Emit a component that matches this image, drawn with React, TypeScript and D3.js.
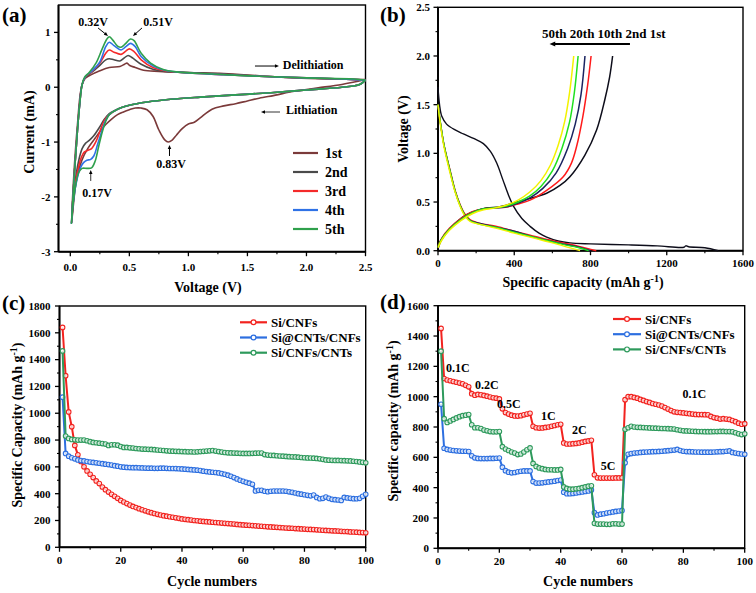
import React from "react";
import * as d3 from "d3";

const FONT = "'Liberation Serif','Times New Roman',Times,serif";

// ---------------- Panel (a) : CV curves ----------------
const cvNames = ["1st", "2nd", "3rd", "4th", "5th"];
const cvColors = ["#7b3a3a", "#4a4a4a", "#f42a2a", "#2f72e6", "#2fa04c"];
const cv1: [number, number][] = [
  [2.5, 0.14], [2.3, 0.05], [2.1, -0.01], [2.0, -0.04], [1.85, -0.09], [1.75, -0.14], [1.6, -0.2], [1.5, -0.25], [1.4, -0.3], [1.3, -0.34], [1.2, -0.4],
  [1.1, -0.56], [1.05, -0.64], [1.0, -0.67], [0.95, -0.75], [0.9, -0.87], [0.86, -0.97], [0.83, -1.0], [0.8, -0.96], [0.75, -0.78],
  [0.7, -0.53], [0.65, -0.41], [0.6, -0.38], [0.55, -0.38], [0.5, -0.41], [0.45, -0.45], [0.4, -0.5], [0.35, -0.58], [0.3, -0.68],
  [0.25, -0.81], [0.2, -0.96], [0.15, -1.11], [0.1, -1.32], [0.05, -1.72], [0.01, -2.48],
  [0.03, -1.6], [0.06, -0.7], [0.09, -0.05], [0.12, 0.15], [0.17, 0.22], [0.25, 0.3], [0.33, 0.36], [0.42, 0.38], [0.46, 0.42],
  [0.48, 0.44], [0.5, 0.4], [0.55, 0.36], [0.62, 0.31], [0.75, 0.29], [1.0, 0.27], [1.3, 0.25], [1.6, 0.21], [1.9, 0.17], [2.2, 0.15], [2.5, 0.14],
];
const cv2: [number, number][] = [
  [2.5, 0.13], [2.45, 0.05], [2.3, 0.0], [2.0, -0.05], [1.7, -0.1], [1.4, -0.14], [1.1, -0.18], [0.85, -0.22], [0.65, -0.27], [0.5, -0.33],
  [0.4, -0.4], [0.33, -0.48], [0.29, -0.58], [0.25, -0.72], [0.2, -0.88], [0.16, -0.97], [0.13, -1.02], [0.1, -1.12], [0.07, -1.35],
  [0.04, -1.75], [0.01, -2.48],
  [0.02, -2.1], [0.04, -1.4], [0.06, -0.8], [0.08, -0.3], [0.1, 0.05], [0.13, 0.18], [0.18, 0.27], [0.25, 0.4], [0.3, 0.5], [0.33, 0.52],
  [0.37, 0.5], [0.42, 0.48], [0.46, 0.54], [0.49, 0.58], [0.53, 0.53], [0.6, 0.42], [0.7, 0.33], [0.8, 0.29], [1.0, 0.27], [1.3, 0.24],
  [1.6, 0.2], [2.0, 0.17], [2.3, 0.15], [2.5, 0.13],
];
const cv3: [number, number][] = [
  [2.5, 0.13], [2.45, 0.05], [2.3, 0.0], [2.0, -0.05], [1.7, -0.1], [1.4, -0.14], [1.1, -0.18], [0.85, -0.22], [0.65, -0.27], [0.5, -0.33],
  [0.4, -0.4], [0.33, -0.5], [0.29, -0.6], [0.26, -0.75], [0.22, -0.98], [0.18, -1.12], [0.15, -1.15], [0.12, -1.18], [0.09, -1.3],
  [0.06, -1.55], [0.03, -1.95], [0.01, -2.48],
  [0.02, -2.1], [0.04, -1.4], [0.06, -0.8], [0.08, -0.3], [0.1, 0.05], [0.13, 0.19], [0.18, 0.28], [0.25, 0.44], [0.3, 0.62], [0.33, 0.68],
  [0.37, 0.64], [0.43, 0.6], [0.47, 0.66], [0.5, 0.7], [0.54, 0.65], [0.6, 0.5], [0.7, 0.36], [0.8, 0.3], [1.0, 0.26], [1.3, 0.23],
  [1.6, 0.2], [2.0, 0.17], [2.3, 0.15], [2.5, 0.13],
];
const cv4: [number, number][] = [
  [2.5, 0.13], [2.45, 0.05], [2.3, 0.0], [2.0, -0.05], [1.7, -0.1], [1.4, -0.14], [1.1, -0.18], [0.85, -0.22], [0.65, -0.27], [0.5, -0.33],
  [0.4, -0.4], [0.33, -0.5], [0.3, -0.6], [0.27, -0.78], [0.23, -1.05], [0.2, -1.25], [0.17, -1.32], [0.14, -1.33], [0.11, -1.38],
  [0.08, -1.5], [0.05, -1.75], [0.02, -2.2], [0.01, -2.48],
  [0.02, -2.1], [0.04, -1.4], [0.06, -0.8], [0.08, -0.3], [0.1, 0.05], [0.13, 0.2], [0.18, 0.29], [0.25, 0.46], [0.3, 0.74], [0.33, 0.82],
  [0.37, 0.76], [0.43, 0.68], [0.47, 0.74], [0.51, 0.8], [0.55, 0.74], [0.6, 0.56], [0.7, 0.39], [0.8, 0.31], [1.0, 0.26], [1.3, 0.23],
  [1.6, 0.2], [2.0, 0.17], [2.3, 0.15], [2.5, 0.13],
];
const cv5: [number, number][] = [
  [2.5, 0.13], [2.45, 0.05], [2.3, 0.0], [2.0, -0.05], [1.7, -0.1], [1.4, -0.14], [1.1, -0.18], [0.85, -0.22], [0.65, -0.27], [0.5, -0.33],
  [0.4, -0.4], [0.33, -0.5], [0.3, -0.62], [0.27, -0.82], [0.24, -1.08], [0.21, -1.35], [0.18, -1.47], [0.14, -1.48], [0.1, -1.48],
  [0.07, -1.56], [0.04, -1.85], [0.02, -2.2], [0.01, -2.48],
  [0.02, -2.1], [0.04, -1.4], [0.06, -0.8], [0.08, -0.3], [0.1, 0.05], [0.12, 0.18], [0.16, 0.27], [0.22, 0.45], [0.27, 0.7], [0.31, 0.88],
  [0.33, 0.92], [0.36, 0.86], [0.4, 0.75], [0.43, 0.73], [0.47, 0.8], [0.51, 0.88], [0.54, 0.85], [0.6, 0.62], [0.68, 0.44], [0.78, 0.33],
  [0.9, 0.28], [1.2, 0.24], [1.6, 0.2], [2.0, 0.17], [2.4, 0.15], [2.5, 0.13],
];
const cvSeries = [cv1, cv2, cv3, cv4, cv5];
const cvXTicks = [0, 0.5, 1.0, 1.5, 2.0, 2.5];
const cvYTicks = [-3, -2, -1, 0, 1];

// ---------------- Panel (b) : charge/discharge ----------------
const gcdNames = ["1st", "2nd", "10th", "20th", "50th"];
const gcdColors = ["#0d0d1a", "#ff1a1a", "#1a2360", "#1ee01e", "#f2f200"];
const ch1: [number, number][] = [
  [0, 0.02], [15, 0.1], [50, 0.2], [100, 0.3], [150, 0.37], [200, 0.41], [260, 0.44], [320, 0.45], [395, 0.49], [470, 0.53],
  [570, 0.59], [640, 0.67], [692, 0.76], [770, 0.98], [832, 1.24], [875, 1.55], [900, 1.78], [916, 2.0],
];
const ch2: [number, number][] = [
  [0, 0.05], [20, 0.13], [60, 0.23], [120, 0.33], [180, 0.4], [240, 0.43], [300, 0.44], [360, 0.45], [420, 0.48], [483, 0.52],
  [570, 0.62], [657, 0.76], [700, 0.9], [727, 1.07], [760, 1.38], [785, 1.7], [803, 2.0],
];
const ch10: [number, number][] = [
  [0, 0.04], [20, 0.12], [60, 0.22], [120, 0.32], [180, 0.39], [240, 0.43], [300, 0.44], [360, 0.45], [420, 0.49], [480, 0.54],
  [550, 0.64], [620, 0.8], [680, 1.05], [720, 1.3], [750, 1.6], [771, 2.0],
];
const ch20: [number, number][] = [
  [0, 0.04], [20, 0.12], [60, 0.22], [120, 0.32], [180, 0.39], [240, 0.43], [300, 0.44], [360, 0.46], [420, 0.5], [480, 0.56],
  [540, 0.66], [600, 0.82], [650, 1.05], [690, 1.32], [715, 1.62], [735, 2.0],
];
const ch50: [number, number][] = [
  [0, 0.03], [20, 0.11], [60, 0.21], [120, 0.31], [180, 0.38], [240, 0.42], [300, 0.44], [360, 0.47], [420, 0.52], [480, 0.6],
  [540, 0.72], [590, 0.88], [630, 1.08], [665, 1.33], [690, 1.62], [712, 2.0],
];
const dis1: [number, number][] = [
  [0, 1.68], [8, 1.5], [20, 1.38], [45, 1.3], [90, 1.24], [133, 1.2], [190, 1.15], [238, 1.1], [275, 1.02], [308, 0.9], [340, 0.73],
  [370, 0.57], [395, 0.46], [440, 0.33], [483, 0.25], [530, 0.18], [570, 0.14], [630, 0.1], [692, 0.08], [800, 0.07], [1000, 0.06],
  [1150, 0.05], [1290, 0.035], [1300, 0.05], [1315, 0.04], [1400, 0.03], [1470, 0.0],
];
const dis2: [number, number][] = [
  [0, 1.5], [10, 1.35], [30, 1.1], [63, 0.83], [90, 0.62], [115, 0.48], [140, 0.38], [168, 0.32], [220, 0.28], [308, 0.25],
  [400, 0.2], [483, 0.16], [560, 0.12], [656, 0.08], [740, 0.045], [830, 0.0],
];
const dis10: [number, number][] = [
  [0, 1.5], [10, 1.35], [30, 1.1], [63, 0.82], [90, 0.61], [115, 0.47], [140, 0.37], [168, 0.31], [220, 0.28], [308, 0.24],
  [400, 0.2], [483, 0.15], [560, 0.11], [656, 0.07], [740, 0.035], [800, 0.0],
];
const dis20: [number, number][] = [
  [0, 1.5], [10, 1.35], [30, 1.1], [63, 0.82], [90, 0.61], [115, 0.47], [140, 0.37], [168, 0.31], [220, 0.27], [308, 0.24],
  [400, 0.19], [483, 0.15], [560, 0.11], [656, 0.065], [740, 0.03], [790, 0.0],
];
const dis50: [number, number][] = [
  [0, 1.5], [10, 1.33], [30, 1.08], [63, 0.8], [90, 0.6], [115, 0.46], [140, 0.36], [168, 0.3], [220, 0.27], [308, 0.23],
  [400, 0.18], [483, 0.14], [560, 0.1], [656, 0.05], [745, 0.0],
];
const chargeSeries = [ch1, ch2, ch10, ch20, ch50];
const dischargeSeries = [dis1, dis2, dis10, dis20, dis50];
const gcdXTicks = [0, 400, 800, 1200, 1600];
const gcdYTicks = [0, 0.5, 1.0, 1.5, 2.0, 2.5];

// ---------------- Panels (c) & (d) ----------------
const matNames = ["Si/CNFs", "Si@CNTs/CNFs", "Si/CNFs/CNTs"];
const matColors = ["#f2231f", "#2d6fe0", "#2e9a5c"];
const cycleX = d3.range(1, 101);

const cycSiCNFs = [
  1640, 1280, 1010, 900, 760, 690, 640, 600, 570, 545,
  520, 495, 475, 450, 430, 412, 395, 380, 365, 350,
  338, 326, 315, 305, 296, 288, 280, 272, 265, 258,
  252, 246, 241, 236, 232, 228, 224, 220, 216, 212,
  209, 206, 203, 200, 198, 195, 193, 191, 189, 187,
  185, 183, 181, 179, 177, 175, 173, 171, 169, 167,
  165, 164, 162, 160, 158, 157, 155, 153, 152, 150,
  149, 147, 146, 144, 143, 142, 140, 139, 137, 136,
  134, 133, 132, 130, 129, 127, 126, 125, 123, 122,
  121, 119, 118, 117, 115, 114, 113, 111, 110, 108,
];
const cycSiCNTsCNFs = [
  1120, 700, 680, 668, 660, 652, 647, 644, 640, 636,
  633, 630, 627, 624, 620, 617, 613, 609, 605, 600,
  598, 596, 595, 594, 594, 593, 592, 591, 590, 590,
  589, 589, 590, 590, 589, 588, 588, 587, 586, 585,
  583, 581, 579, 577, 575, 572, 568, 565, 562, 560,
  558, 555, 550, 545, 538, 530, 520, 510, 500, 492,
  485, 478, 470, 420, 425, 425, 418, 415, 418, 420,
  420, 420, 420, 418, 414, 410, 405, 400, 396, 392,
  388, 384, 390, 372, 362, 365, 375, 365, 358, 355,
  353, 350, 372, 368, 365, 363, 362, 365, 380, 395,
];
const cycSiCNFsCNTs = [
  1465, 830, 812, 805, 802, 800, 800, 800, 795, 788,
  782, 780, 777, 774, 770, 760, 765, 765, 762, 752,
  745, 745, 742, 740, 737, 735, 733, 732, 731, 730,
  728, 726, 724, 722, 720, 718, 717, 716, 715, 714,
  713, 712, 712, 711, 712, 714, 716, 718, 720, 722,
  718, 714, 710, 707, 705, 704, 703, 702, 701, 700,
  700, 700, 701, 702, 703, 703, 692, 688, 686, 685,
  683, 681, 680, 678, 676, 675, 674, 672, 670, 668,
  667, 666, 665, 663, 660, 656, 652, 650, 649, 648,
  648, 647, 646, 645, 644, 642, 640, 637, 634, 630,
];
const cycSeries = [cycSiCNFs, cycSiCNTsCNFs, cycSiCNFsCNTs];

const rateSiCNFs = [
  1450, 1120, 1110, 1105, 1100, 1095, 1090, 1085, 1075, 1065,
  1020, 1010, 1015, 1012, 1008, 1003, 998, 993, 990, 985,
  920, 895, 885, 878, 873, 872, 875, 880, 885, 890,
  805, 795, 793, 794, 797, 800, 805, 810, 815, 818,
  695, 688, 688, 690, 692, 695, 700, 705, 708, 712,
  485, 465, 463, 463, 463, 463, 463, 464, 464, 465,
  980, 1000, 1000, 995, 990, 982, 975, 968, 962, 955,
  950, 945, 938, 928, 918, 908, 900, 897, 895, 893,
  890, 888, 885, 883, 882, 882, 881, 880, 870, 862,
  858, 852, 855, 852, 850, 843, 835, 825, 818, 822,
];
const rateSiCNTsCNFs = [
  950, 660, 652, 648, 645, 643, 641, 640, 640, 638,
  610, 597, 593, 592, 592, 592, 593, 593, 594, 595,
  535, 512, 502, 498, 500, 505, 508, 510, 510, 510,
  440, 430, 430, 432, 435, 438, 440, 443, 447, 450,
  370, 360, 360, 362, 365, 368, 372, 375, 378, 385,
  235, 220, 225, 228, 232, 236, 240, 243, 246, 250,
  565, 620, 625, 628, 630, 632, 634, 635, 636, 637,
  638, 639, 640, 642, 644, 646, 648, 652, 645, 640,
  638, 637, 636, 635, 635, 634, 634, 634, 634, 635,
  636, 637, 638, 640, 642, 632, 628, 625, 622, 620,
];
const rateSiCNFsCNTs = [
  1300, 855, 830, 840, 850, 860, 868, 875, 878, 882,
  815, 795, 795, 790, 780, 775, 770, 768, 768, 770,
  670, 655, 645, 635, 628, 618, 622, 635, 650, 662,
  560, 540, 530, 525, 520, 518, 518, 517, 517, 520,
  405, 395, 390, 390, 392, 395, 400, 405, 410, 412,
  165, 160, 160, 160, 158, 158, 162, 162, 160, 160,
  785, 795, 805, 800, 798, 797, 796, 795, 794, 793,
  792, 791, 790, 790, 789, 788, 786, 782, 778, 775,
  774, 773, 772, 771, 770, 770, 769, 769, 769, 770,
  770, 771, 771, 770, 770, 768, 762, 755, 750, 755,
];
const rateSeries = [rateSiCNFs, rateSiCNTsCNFs, rateSiCNFsCNTs];
const rateLabels = ["0.1C", "0.2C", "0.5C", "1C", "2C", "5C", "0.1C"];
const rateLabelX = [2.6, 12.1, 19.2, 33.6, 43.7, 53.1, 79.7];
const rateLabelY = [1163, 1051, 925, 846, 754, 516, 991];

const cycXTicks = [0, 20, 40, 60, 80, 100];
const cycYTicks = [0, 200, 400, 600, 800, 1000, 1200, 1400, 1600, 1800];
const rateYTicks = [0, 200, 400, 600, 800, 1000, 1200, 1400, 1600];

type Lin = d3.ScaleLinear<number, number>;

function Axes(props: {
  xs: Lin; ys: Lin; xTicks: number[]; xMinor: number[]; yTicks: number[]; yMinor: number[];
  xFmt: (v: number) => string; yFmt: (v: number) => string; xDy: number; yGap: number;
}) {
  const { xs, ys, xTicks, xMinor, yTicks, yMinor, xFmt, yFmt, xDy, yGap } = props;
  const [X0, X1] = xs.range();
  const [Y0, Y1] = ys.range();
  return (
    <g fontFamily={FONT} fontWeight="bold" fontSize={11}>
      <rect x={X0} y={Y1} width={X1 - X0} height={Y0 - Y1} fill="none" stroke="#000" strokeWidth={1.4} />
      <line x1={X0} x2={X0} y1={Y1} y2={Y0} stroke="#000" strokeWidth={1.9} />
      <line x1={X0} x2={X1} y1={Y0} y2={Y0} stroke="#000" strokeWidth={1.9} />
      {xMinor.map((t, i) => (
        <line key={"xm" + i} x1={xs(t)} x2={xs(t)} y1={Y0} y2={Y0 + 2.5} stroke="#000" strokeWidth={1.1} />
      ))}
      {yMinor.map((t, i) => (
        <line key={"ym" + i} x1={X0 - 2.5} x2={X0} y1={ys(t)} y2={ys(t)} stroke="#000" strokeWidth={1.1} />
      ))}
      {xTicks.map((t, i) => (
        <g key={"x" + i}>
          <line x1={xs(t)} x2={xs(t)} y1={Y0} y2={Y0 + 4.5} stroke="#000" strokeWidth={1.3} />
          <text x={xs(t)} y={Y0 + xDy} textAnchor="middle">{xFmt(t)}</text>
        </g>
      ))}
      {yTicks.map((t, i) => (
        <g key={"y" + i}>
          <line x1={X0 - 4.5} x2={X0} y1={ys(t)} y2={ys(t)} stroke="#000" strokeWidth={1.3} />
          <text x={X0 - yGap} y={ys(t)} dy="0.35em" textAnchor="end">{yFmt(t)}</text>
        </g>
      ))}
    </g>
  );
}

function Arrow({ x1, y1, x2, y2, w = 1, head = 4 }: { x1: number; y1: number; x2: number; y2: number; w?: number; head?: number }) {
  const ang = Math.atan2(y2 - y1, x2 - x1);
  const hx1 = x2 - head * 1.6 * Math.cos(ang) + head * 0.7 * Math.sin(ang);
  const hy1 = y2 - head * 1.6 * Math.sin(ang) - head * 0.7 * Math.cos(ang);
  const hx2 = x2 - head * 1.6 * Math.cos(ang) - head * 0.7 * Math.sin(ang);
  const hy2 = y2 - head * 1.6 * Math.sin(ang) + head * 0.7 * Math.cos(ang);
  const bx = x2 - head * 1.3 * Math.cos(ang);
  const by = y2 - head * 1.3 * Math.sin(ang);
  return (
    <g>
      <line x1={x1} y1={y1} x2={bx} y2={by} stroke="#000" strokeWidth={w} />
      <path d={`M${x2},${y2}L${hx1},${hy1}L${hx2},${hy2}Z`} fill="#000" />
    </g>
  );
}

const g1 = () => (
  <>
    <tspan>g</tspan>
    <tspan dy={-5} fontSize={10}>-1</tspan>
    <tspan dy={5}>)</tspan>
  </>
);

export default function App() {
  // scales
  const ax = d3.scaleLinear().domain([-0.1, 2.5]).range([58.5, 365.5]);
  const ay = d3.scaleLinear().domain([-3, 1.5]).range([251.7, 5]);
  const bx = d3.scaleLinear().domain([0, 1600]).range([438, 743]);
  const by = d3.scaleLinear().domain([0, 2.5]).range([250.7, 7.3]);
  const cx = d3.scaleLinear().domain([0, 100]).range([59.5, 365.7]);
  const cy = d3.scaleLinear().domain([0, 1800]).range([547.3, 306]);
  const dx = d3.scaleLinear().domain([0, 100]).range([438, 744.7]);
  const dy = d3.scaleLinear().domain([0, 1600]).range([548.3, 305.7]);

  const lineA = d3.line<[number, number]>().x((d) => ax(d[0])).y((d) => ay(d[1])).curve(d3.curveCatmullRom.alpha(0.5));
  const lineB = d3.line<[number, number]>().x((d) => bx(d[0])).y((d) => by(d[1])).curve(d3.curveCatmullRom.alpha(0.5));
  const lineC = d3.line<number>().x((_, i) => cx(cycleX[i])).y((d) => cy(d));
  const lineD = d3.line<number>().x((_, i) => dx(cycleX[i])).y((d) => dy(d));

  const f1 = d3.format(".1f");
  const f0 = (v: number) => String(v);

  const titleStyle = { fontFamily: FONT, fontWeight: "bold" as const };

  return (
    <svg width={756} height={593} style={{ position: "absolute", left: 0, top: 0, background: "#fff" }}>
      <rect x={0} y={0} width={756} height={593} fill="#fff" />
      {/* ============ Panel (a) ============ */}
      <Axes xs={ax} ys={ay} xTicks={cvXTicks} xMinor={[0.25, 0.75, 1.25, 1.75, 2.25]} yTicks={cvYTicks}
        yMinor={[-2.5, -1.5, -0.5, 0.5]} xFmt={f1} yFmt={f0} xDy={19.5} yGap={8} />
      {cvSeries.map((s, i) => (
        <path key={i} d={lineA(s) || ""} fill="none" stroke={cvColors[i]} strokeWidth={1.6} />
      ))}
      <g {...titleStyle} fontSize={12}>
        <text x={ax(0.192)} y={ay(1.117)} textAnchor="middle">0.32V</text>
        <text x={ax(0.743)} y={ay(1.117)} textAnchor="middle">0.51V</text>
        <text x={ax(1.8)} y={ay(0.333)}>Delithiation</text>
        <text x={ax(1.827)} y={ay(-0.487)}>Lithiation</text>
        <text x={ax(0.853)} y={ay(-1.473)} textAnchor="middle">0.83V</text>
        <text x={ax(0.226)} y={ay(-2.0)} textAnchor="middle">0.17V</text>
      </g>
      <Arrow x1={ax(0.235)} y1={ay(1.081)} x2={ax(0.319)} y2={ay(0.935)} head={2.5} />
      <Arrow x1={ax(0.607)} y1={ay(1.081)} x2={ax(0.531)} y2={ay(0.935)} head={2.5} />
      <Arrow x1={ax(1.564)} y1={ay(0.387)} x2={ax(1.767)} y2={ay(0.387)} head={2.5} />
      <Arrow x1={ax(1.776)} y1={ay(-0.452)} x2={ax(1.615)} y2={ay(-0.452)} head={2.5} w={0.8} />
      <Arrow x1={ax(0.84)} y1={ay(-1.254)} x2={ax(0.84)} y2={ay(-1.054)} head={2.5} />
      <Arrow x1={ax(0.173)} y1={ay(-1.71)} x2={ax(0.173)} y2={ay(-1.51)} head={2.5} w={0.8} />
      {cvNames.map((n, i) => (
        <g key={n}>
          <line x1={293} x2={318} y1={153 + i * 19} y2={153 + i * 19} stroke={cvColors[i]} strokeWidth={2.2} />
          <text x={325} y={153 + i * 19 + 5} {...titleStyle} fontSize={14}>{n}</text>
        </g>
      ))}
      <text x={2} y={22} {...titleStyle} fontSize={21}>(a)</text>
      <text transform="translate(29,132) rotate(-90)" textAnchor="middle" dy="0.35em" {...titleStyle} fontSize={14}>Current (mA)</text>
      <text x={208} y={292} textAnchor="middle" {...titleStyle} fontSize={14}>Voltage (V)</text>

      {/* ============ Panel (b) ============ */}
      <Axes xs={bx} ys={by} xTicks={gcdXTicks} xMinor={[200, 600, 1000, 1400]} yTicks={gcdYTicks}
        yMinor={[0.25, 0.75, 1.25, 1.75, 2.25]} xFmt={f0} yFmt={f1} xDy={16} yGap={8} />
      {dischargeSeries.map((s, i) => (
        <path key={"d" + i} d={lineB(s) || ""} fill="none" stroke={gcdColors[i]} strokeWidth={1.4} />
      ))}
      {chargeSeries.map((s, i) => (
        <path key={"c" + i} d={lineB(s) || ""} fill="none" stroke={gcdColors[i]} strokeWidth={1.5} />
      ))}
      <text x={bx(545.6)} y={by(2.184)} {...titleStyle} fontSize={13}>
        {[...gcdNames].reverse().join(" ")}
      </text>
      <Arrow x1={bx(1007)} y1={by(2.123)} x2={bx(585)} y2={by(2.123)} w={2.2} head={3.6} />
      <text x={380} y={22} {...titleStyle} fontSize={21}>(b)</text>
      <text transform="translate(403,129) rotate(-90)" textAnchor="middle" dy="0.35em" {...titleStyle} fontSize={14}>Voltage (V)</text>
      <text x={583} y={287} textAnchor="middle" {...titleStyle} fontSize={14}>
        <tspan>Specific capacity (mAh </tspan>{g1()}
      </text>

      {/* ============ Panel (c) ============ */}
      <Axes xs={cx} ys={cy} xTicks={cycXTicks} xMinor={[10, 30, 50, 70, 90]} yTicks={cycYTicks}
        yMinor={[100, 300, 500, 700, 900, 1100, 1300, 1500, 1700]} xFmt={f0} yFmt={f0} xDy={17} yGap={9} />
      {cycSeries.map((s, i) => (
        <g key={"cs" + i}>
          <path d={lineC(s) || ""} fill="none" stroke={matColors[i]} strokeWidth={2} />
          {s.map((v, j) => (
            <circle key={j} cx={cx(cycleX[j])} cy={cy(v)} r={2.3} fill="#fff" fillOpacity={0.75} stroke={matColors[i]} strokeWidth={1.1} />
          ))}
        </g>
      ))}
      {matNames.map((n, i) => (
        <g key={"lc" + n}>
          <line x1={240} x2={267} y1={322.3 + i * 15.2} y2={322.3 + i * 15.2} stroke={matColors[i]} strokeWidth={2.2} />
          <circle cx={253.5} cy={322.3 + i * 15.2} r={2.4} fill="#fff" stroke={matColors[i]} strokeWidth={1.2} />
          <text x={271} y={322.3 + i * 15.2 + 4.5} {...titleStyle} fontSize={13}>{n}</text>
        </g>
      ))}
      <text x={2} y={310} {...titleStyle} fontSize={21}>(c)</text>
      <text transform="translate(17,425) rotate(-90)" textAnchor="middle" dy="0.35em" {...titleStyle} fontSize={14}>
        <tspan>Specific Capacity (mAh </tspan>{g1()}
      </text>
      <text x={212} y={585.5} textAnchor="middle" {...titleStyle} fontSize={14}>Cycle numbers</text>

      {/* ============ Panel (d) ============ */}
      <Axes xs={dx} ys={dy} xTicks={cycXTicks} xMinor={[10, 30, 50, 70, 90]} yTicks={rateYTicks}
        yMinor={[100, 300, 500, 700, 900, 1100, 1300, 1500]} xFmt={f0} yFmt={f0} xDy={17} yGap={9} />
      {rateSeries.map((s, i) => (
        <g key={"rs" + i}>
          <path d={lineD(s) || ""} fill="none" stroke={matColors[i]} strokeWidth={2} />
          {s.map((v, j) => (
            <circle key={j} cx={dx(cycleX[j])} cy={dy(v)} r={2.3} fill="#fff" fillOpacity={0.75} stroke={matColors[i]} strokeWidth={1.1} />
          ))}
        </g>
      ))}
      {rateLabels.map((t, i) => (
        <text key={"rl" + i} x={dx(rateLabelX[i])} y={dy(rateLabelY[i])} {...titleStyle} fontSize={12}>{t}</text>
      ))}
      {matNames.map((n, i) => (
        <g key={"ld" + n}>
          <line x1={613} x2={641} y1={319 + i * 15.2} y2={319 + i * 15.2} stroke={matColors[i]} strokeWidth={2.2} />
          <circle cx={627} cy={319 + i * 15.2} r={2.4} fill="#fff" stroke={matColors[i]} strokeWidth={1.2} />
          <text x={645} y={319 + i * 15.2 + 4.5} {...titleStyle} fontSize={13}>{n}</text>
        </g>
      ))}
      <text x={380} y={309} {...titleStyle} fontSize={21}>(d)</text>
      <text transform="translate(393,421) rotate(-90)" textAnchor="middle" dy="0.35em" {...titleStyle} fontSize={14}>
        <tspan>Specific capacity (mAh </tspan>{g1()}
      </text>
      <text x={588} y={585.5} textAnchor="middle" {...titleStyle} fontSize={14}>Cycle numbers</text>
    </svg>
  );
}
